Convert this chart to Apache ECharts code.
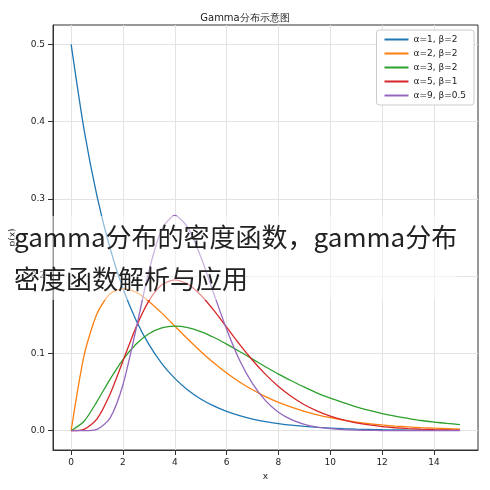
<!DOCTYPE html>
<html><head><meta charset="utf-8">
<script src="https://cdn.jsdelivr.net/npm/echarts@6/dist/echarts.min.js"></script>
<style>html,body{margin:0;background:#fff}#c{width:490px;height:490px}</style>
</head><body><div id="c"></div>
<script>
// x 取样点 0 ~ 15，步长 0.5
const xs = Array.from({ length: 31 }, (_, i) => i * 0.5);
const names = ['α=1, β=2', 'α=2, β=2', 'α=3, β=2', 'α=5, β=1', 'α=9, β=0.5'];
const colors = ['#1f77b4', '#ff7f0e', '#2ca02c', '#d62728', '#9467bd'];
const a1 = [.5,.3894,.3033,.2362,.1839,.1433,.1116,.0869,.0677,.0527,.0410,.0320,.0249,.0194,.0151,.0118,.0092,.0071,.0056,.0043,.0034,.0026,.0020,.0016,.0012,.0010,.0008,.0006,.0005,.0004,.0003];
const a2 = [0,.0974,.1516,.1772,.1839,.1791,.1673,.1521,.1353,.1186,.1026,.0879,.0747,.0631,.0529,.0441,.0366,.0304,.0250,.0205,.0168,.0138,.0112,.0091,.0074,.0060,.0049,.0039,.0032,.0026,.0021];
const a3 = [0,.0122,.0379,.0665,.0920,.1119,.1255,.1331,.1353,.1334,.1283,.1209,.1121,.1025,.0926,.0827,.0732,.0646,.0563,.0487,.0420,.0362,.0308,.0262,.0222,.0188,.0159,.0132,.0112,.0094,.0079];
const a5 = [0,.0016,.0153,.0471,.0902,.1336,.1680,.1888,.1952,.1897,.1755,.1559,.1339,.1116,.0912,.0729,.0572,.0442,.0336,.0254,.0189,.0139,.0102,.0074,.0053,.0038,.0027,.0019,.0013,.0009,.0006];
const a9 = [0,0,.0017,.0162,.0595,.1306,.2066,.2608,.2787,.2631,.2253,.1778,.1312,.0911,.0609,.0389,.0239,.0143,.0083,.0047,.0026,.0014,.0008,.0004,.0002,.0001,0,0,0,0,0];
const xTicks = [0, 2, 4, 6, 8, 10, 12, 14];
const yTicks = [0, 0.1, 0.2, 0.3, 0.4, 0.5];

const chart = echarts.init(document.getElementById('c'));
chart.setOption({
    animation: false,
    textStyle: { fontFamily: 'DejaVu Sans' },
    title: { text: 'Gamma分布示意图', left: 'center', top: 8, textStyle: { fontSize: 10, fontWeight: 'normal', color: '#222' } },
    grid: { left: 50, right: 12, top: 25, bottom: 40, show: true, borderColor: '#333', borderWidth: 1 },
    legend: {
        orient: 'vertical', right: 16, top: 30, itemWidth: 24, itemHeight: 2, itemGap: 5,
        icon: 'rect', data: names,
        backgroundColor: '#fff', borderColor: '#ccc', borderWidth: 1, borderRadius: 3, padding: [5, 8],
        textStyle: { fontSize: 9, color: '#222' }
    },
    xAxis: {
        type: 'value', min: -0.7, max: 15.7, name: 'x', nameLocation: 'middle', nameGap: 22,
        nameTextStyle: { fontSize: 9, color: '#222' },
        axisLine: { onZero: false, lineStyle: { color: '#333' } },
        axisTick: { customValues: xTicks, lineStyle: { color: '#333' } },
        axisLabel: { customValues: xTicks, fontSize: 9, color: '#222' },
        splitLine: { show: true, lineStyle: { color: '#e3e3e3' } }
    },
    yAxis: {
        type: 'value', min: -0.025, max: 0.525, name: 'p(x)', nameLocation: 'middle', nameGap: 36,
        nameTextStyle: { fontSize: 9, color: '#222' },
        axisLine: { show: true, onZero: false, lineStyle: { color: '#333' } },
        axisTick: { show: true, customValues: yTicks, lineStyle: { color: '#333' } },
        axisLabel: { customValues: yTicks, fontSize: 9, color: '#222', formatter: v => v.toFixed(1) },
        splitLine: { show: true, lineStyle: { color: '#e3e3e3' } }
    },
    series: [a1, a2, a3, a5, a9].map((d, i) => ({
        name: names[i], type: 'line', smooth: 0.25, showSymbol: false,
        data: d.map((v, j) => [xs[j], v]),
        lineStyle: { width: 1.3, color: colors[i] }, itemStyle: { color: colors[i] }
    })),
    graphic: [{
        type: 'text', left: 14, top: 216, z: 100,
        style: { text: 'gamma分布的密度函数，gamma分布\n密度函数解析与应用', font: '26px "Noto Sans CJK SC"', fill: '#222', lineHeight: 42, backgroundColor: 'rgba(255,255,255,0.5)' }
    }]
});
</script></body></html>
